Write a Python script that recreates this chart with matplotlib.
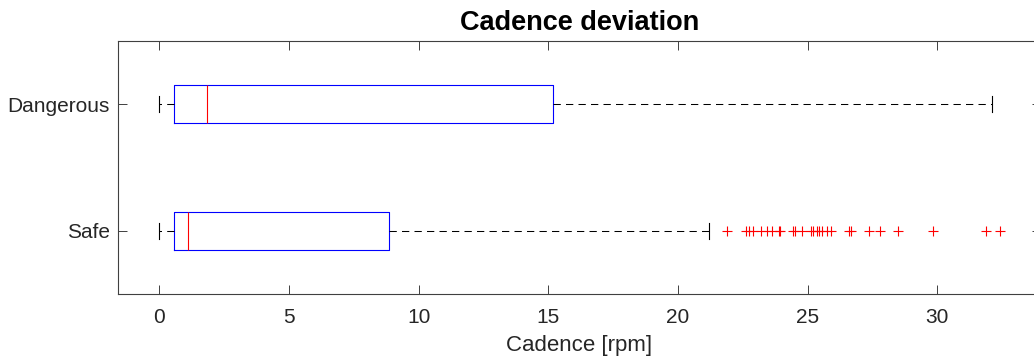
import matplotlib
matplotlib.use("Agg")
import matplotlib.pyplot as plt

plt.rcParams['font.family'] = ['Liberation Sans', 'DejaVu Sans']

categories = ['Safe', 'Dangerous']
whisker_low = [0.0, 0.0]
q1 = [0.56, 0.56]
median = [1.10, 1.83]
q3 = [8.85, 15.17]
whisker_high = [21.2, 32.1]
safe_outliers = [21.90, 22.62, 22.72, 22.90, 23.20, 23.45, 23.64, 23.88, 23.94,
                 24.42, 24.52, 24.77, 25.11, 25.20, 25.37, 25.43, 25.57, 25.74,
                 25.90, 26.61, 26.67, 27.38, 27.79, 28.50, 29.84, 31.88, 32.41]
dangerous_outliers = []
outliers = [safe_outliers, dangerous_outliers]
xticks = [0, 5, 10, 15, 20, 25, 30]

fig = plt.figure(figsize=(10.34, 3.59), dpi=100)
ax = fig.add_axes([118/1034, 65/359, 923/1034, 253/359])

stats = []
for i, name in enumerate(categories):
    stats.append(dict(label=name, whislo=whisker_low[i], q1=q1[i], med=median[i],
                      q3=q3[i], whishi=whisker_high[i], fliers=outliers[i]))

ax.bxp(stats, positions=[1, 2], widths=0.3, capwidths=0.13,
       orientation='horizontal', showfliers=True,
       boxprops=dict(color='#0000ff', linewidth=0.8),
       medianprops=dict(color='#ff0000', linewidth=0.8),
       whiskerprops=dict(color='black', linewidth=0.75, linestyle=(0, (7, 5))),
       capprops=dict(color='black', linewidth=0.8),
       flierprops=dict(marker='+', markeredgecolor='#ff0000', markersize=7,
                       markeredgewidth=0.8, linestyle='none'))

ax.set_xlim(-1.6, 34.0)
ax.set_ylim(0.5, 2.5)
ax.set_xticks(xticks)
ax.set_xticklabels([str(t) for t in xticks])
ax.set_yticks([1, 2])
ax.set_yticklabels(categories)

for s in ax.spines.values():
    s.set_color('#404040')
    s.set_linewidth(0.8)
ax.tick_params(direction='in', length=6.5, width=0.7, color='#404040',
               labelsize=15, labelcolor='#262626',
               top=True, right=True)
ax.tick_params(axis='x', pad=10)
ax.tick_params(axis='y', pad=6)
ax.set_xlabel('Cadence [rpm]', fontsize=16, color='#262626', labelpad=6)
ax.set_title('Cadence deviation', fontsize=19.5, fontweight='bold', pad=8)

fig.savefig('out.png', dpi=100)
